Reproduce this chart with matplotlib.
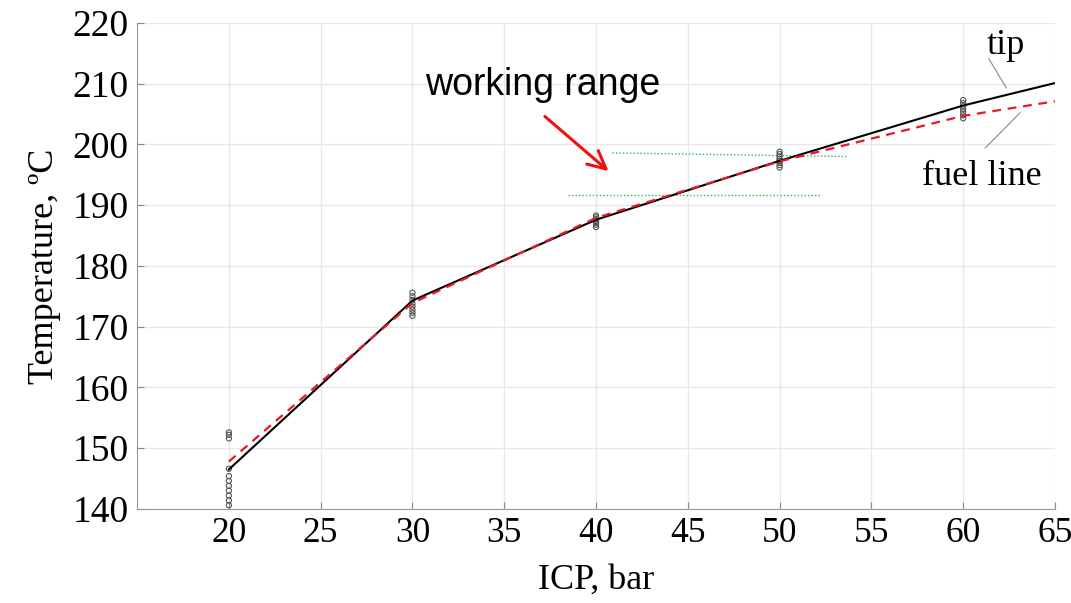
import matplotlib
matplotlib.use("Agg")
import matplotlib.pyplot as plt

# Mean temperature curves vs injection pressure
icp = [20, 30, 40, 50, 60, 65]
temp_tip = [146.5, 174.3, 187.6, 197.3, 206.4, 210.1]
temp_fuel = [147.8, 173.9, 187.9, 197.2, 204.7, 207.1]

# Individual measurements at each pressure step
meas_x = [20] * 11 + [30] * 8 + [40] * 7 + [50] * 8 + [60] * 7
meas_t = [140.6, 141.4, 142.2, 143.0, 143.8, 144.6, 145.4, 146.6, 151.6, 152.2, 152.6,
          171.8, 172.3, 172.8, 173.3, 173.8, 174.4, 175.0, 175.6,
          186.4, 186.8, 187.1, 187.4, 187.7, 188.0, 188.3,
          196.2, 196.6, 197.0, 197.3, 197.6, 198.0, 198.4, 198.8,
          204.3, 204.8, 205.3, 205.8, 206.3, 206.8, 207.3]

# Working range bounds (green dotted)
upper_x = [40.9, 53.7]
upper_t = [198.6, 198.0]
lower_x = [38.5, 52.2]
lower_t = [191.7, 191.7]

xticks = [20, 25, 30, 35, 40, 45, 50, 55, 60, 65]
yticks = [140, 150, 160, 170, 180, 190, 200, 210, 220]

serif = ["Liberation Serif", "DejaVu Serif"]

fig = plt.figure(figsize=(10.71, 6.03), dpi=100)
ax = fig.add_axes([0.128, 0.156, 0.857, 0.806])

ax.scatter(meas_x, meas_t, s=14, facecolors="none", edgecolors="#555555",
           linewidths=0.8, zorder=3)
ax.plot(icp, temp_tip, color="black", lw=1.5, zorder=4)
ax.plot(icp, temp_fuel, color="#e8182a", lw=1.6, ls=(0, (4, 3)), zorder=5)

ax.plot(upper_x, upper_t, color="#2db84d", lw=1.0, ls=(0, (1, 1.5)), zorder=2)
ax.plot(lower_x, lower_t, color="#2db84d", lw=1.0, ls=(0, (1, 1.5)), zorder=2)

ax.text(37.1, 209.8, "working range", fontsize=27, family="Liberation Sans",
        ha="center", va="center")
ax.annotate("", xy=(40.8, 195.3), xytext=(37.1, 204.9),
            arrowprops=dict(arrowstyle="->", color="#f01010", lw=2.2,
                            mutation_scale=32))

ax.text(62.3, 216.3, "tip", fontsize=26, family=serif, ha="center", va="center")
ax.plot([61.4, 62.35], [214.1, 209.3], color="#888888", lw=0.8)
ax.text(61.0, 194.8, "fuel line", fontsize=26, family=serif, ha="center", va="center")
ax.plot([61.2, 63.1], [199.4, 205.2], color="#888888", lw=0.8)

ax.set_xlim(15, 65)
ax.set_ylim(140, 220)
ax.set_xticks(xticks)
ax.set_yticks(yticks)
ax.set_xticklabels([str(v) for v in xticks], family=serif, fontsize=25.5)
ax.set_yticklabels([str(v) for v in yticks], family=serif, fontsize=27)
ax.tick_params(direction="in", length=5, color="#888888", pad=6)
ax.grid(True, color="#e8e8e8", lw=1.0)
ax.set_axisbelow(True)

for side in ["top", "right"]:
    ax.spines[side].set_visible(False)
for side in ["left", "bottom"]:
    ax.spines[side].set_color("#999999")

ax.set_xlabel("ICP, bar", family=serif, fontsize=26, labelpad=10)
ax.set_ylabel("Temperature, ºC", family=serif, fontsize=26, labelpad=8)

fig.savefig("out.png", dpi=100)
